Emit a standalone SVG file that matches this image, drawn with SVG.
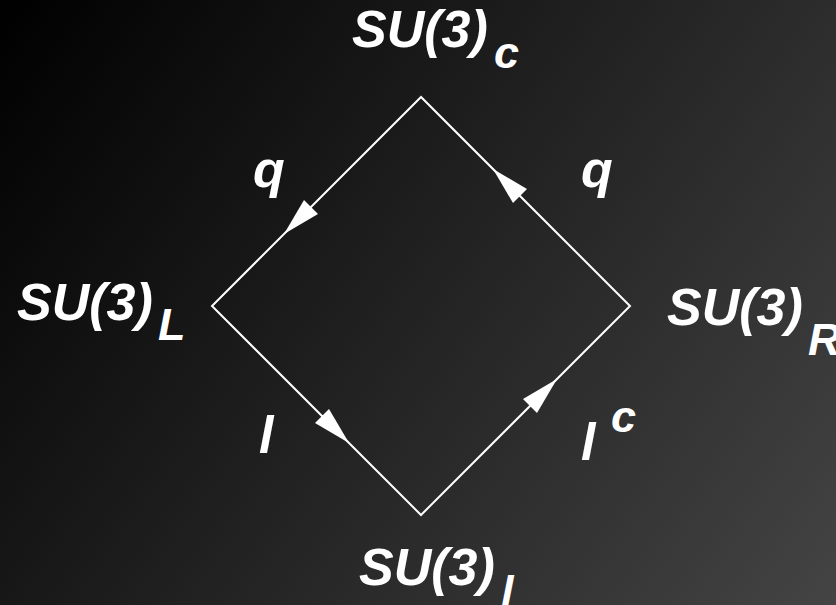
<svg xmlns="http://www.w3.org/2000/svg" width="836" height="605" viewBox="0 0 836 605">
<defs>
<linearGradient id="bg" gradientUnits="userSpaceOnUse" x1="0" y1="0" x2="836" y2="605">
<stop offset="0" stop-color="#000000"/>
<stop offset="1" stop-color="#444444"/>
</linearGradient>
<style>
text{font-family:"Liberation Sans",Arial,sans-serif;font-weight:bold;font-style:italic;fill:#ffffff}
.main{font-size:52px}
.sub{font-size:45px}
.edge{stroke:#ffffff;stroke-width:2;fill:none}
.head{fill:#ffffff;stroke:none}
</style>
</defs>
<rect x="0" y="0" width="836" height="605" fill="url(#bg)"/>
<g id="connectors">
<path class="edge" d="M421,97 L212,306 L421,515 L630,306 Z"/>
<polygon class="head" points="284,234 318,214 304,200"/>
<polygon class="head" points="493,169 527,189 513,203"/>
<polygon class="head" points="349,443 329,409 315,423"/>
<polygon class="head" points="557,379 537,413 523,399"/>
</g>
<g id="node-c"><text class="main" x="352" y="47">SU(3)</text><text class="sub" x="494" y="68">c</text></g>
<g id="node-L"><text class="main" x="17" y="320">SU(3)</text><text class="sub" x="158" y="340">L</text></g>
<g id="node-R"><text class="main" x="667" y="325">SU(3)</text><text class="sub" x="808" y="355">R</text></g>
<g id="node-l"><text class="main" x="359" y="585">SU(3)</text><text class="sub" x="501" y="607">l</text></g>
<g id="labels">
<text class="main" x="253" y="187">q</text>
<text class="main" x="581" y="187">q</text>
<text class="main" x="259" y="453">l</text>
<text class="main" x="581" y="460">l</text>
<text class="sub" x="611" y="432">c</text>
</g>
</svg>
